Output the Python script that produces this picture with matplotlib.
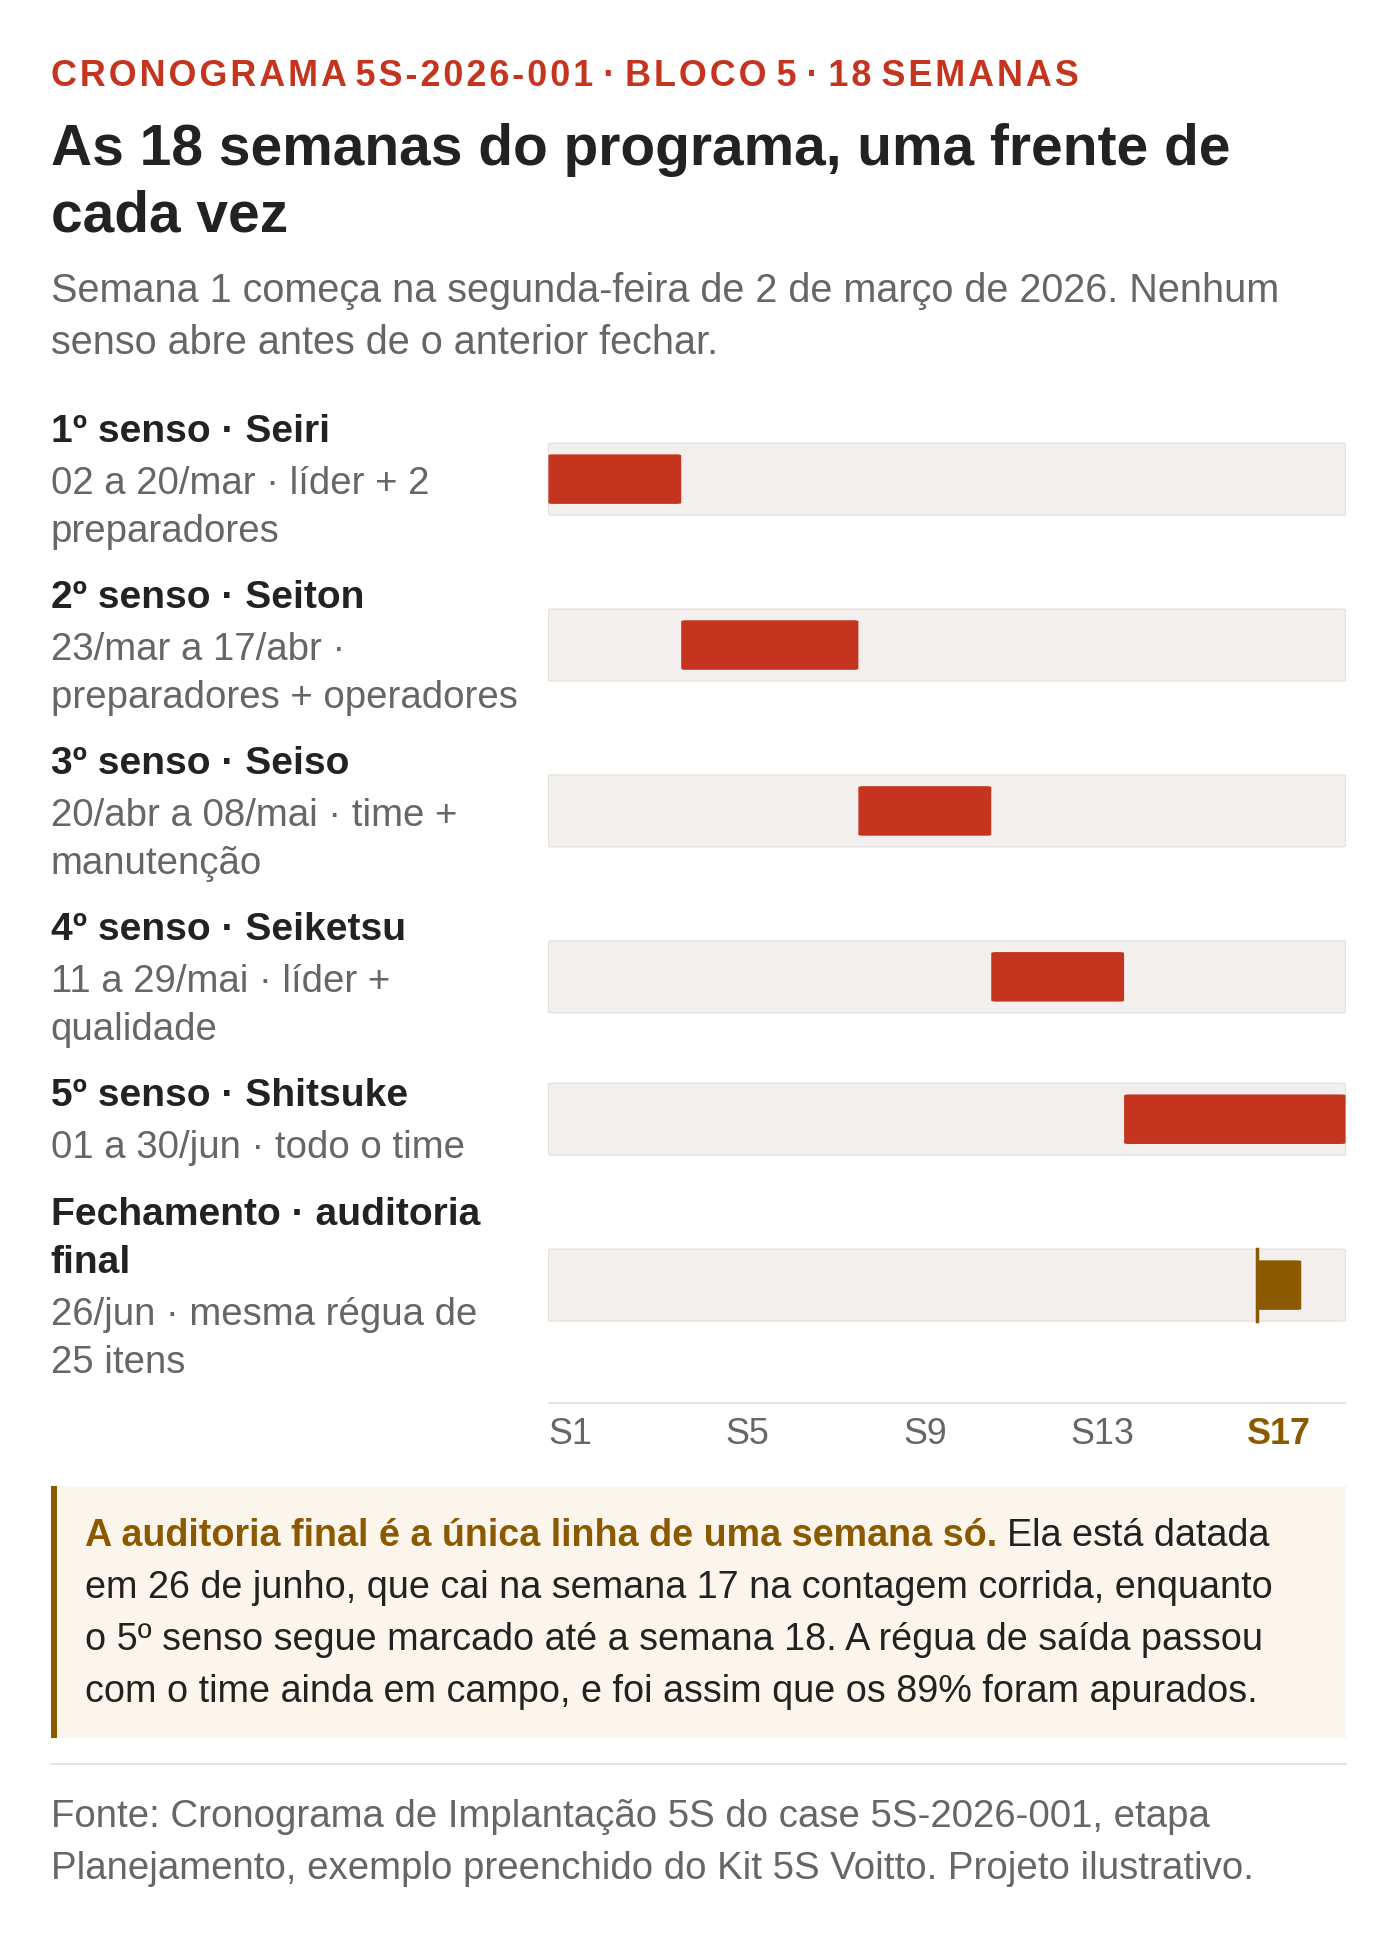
import matplotlib
matplotlib.use("Agg")
import matplotlib.pyplot as plt
from matplotlib.patches import FancyBboxPatch, Rectangle

plt.rcParams["font.family"] = ["Liberation Sans", "DejaVu Sans"]

# data
weeks_total = 18
names = ["1º senso · Seiri", "2º senso · Seiton", "3º senso · Seiso",
         "4º senso · Seiketsu", "5º senso · Shitsuke", "Fechamento · auditoria\nfinal"]
details = ["02 a 20/mar · líder + 2\npreparadores",
           "23/mar a 17/abr ·\npreparadores + operadores",
           "20/abr a 08/mai · time +\nmanutenção",
           "11 a 29/mai · líder +\nqualidade",
           "01 a 30/jun · todo o time",
           "26/jun · mesma régua de\n25 itens"]
start_week = [1, 4, 8, 11, 14, 17]
end_week = [3, 7, 10, 13, 18, 17]
tick_weeks = [1, 5, 9, 13, 17]
tick_labels = ["S1", "S5", "S9", "S13", "S17"]

RED = "#C4341F"
GOLD = "#8B5A00"
W, H = 1131, 1571
fig = plt.figure(figsize=(14, 19.45), dpi=100)
s = 1400 / W


def fx(x):
    return x / W


def fy(y):
    return 1 - y / H


def txt(x, y, t, size, **kw):
    return fig.text(fx(x), fy(y), t, fontsize=size * s * 0.72, va="center", **kw)


kicker = "CRONOGRAMA 5S-2026-001 · BLOCO 5 · 18 SEMANAS"
kicker = " ".join("\u200a".join(w) for w in kicker.split(" "))
txt(41, 62, kicker, 29, color=RED, fontweight="bold")
txt(41, 121, "As 18 semanas do programa, uma frente de", 46, color="#222", fontweight="bold")
txt(41, 175, "cada vez", 46, color="#222", fontweight="bold")
txt(41, 235, "Semana 1 começa na segunda-feira de 2 de março de 2026. Nenhum", 32, color="#666")
txt(41, 277, "senso abre antes de o anterior fechar.", 32, color="#666")

row_y = [387, 521, 655, 789, 904, 1038]
head_y = [349, 483, 617, 751, 885, 981]
for i in range(len(names)):
    hl = names[i].split("\n")
    for k, line in enumerate(hl):
        txt(41, head_y[i] + 39 * k, line, 31.5, color="#222", fontweight="bold")
    y0 = head_y[i] + 39 * len(hl) + 3
    for k, line in enumerate(details[i].split("\n")):
        txt(41, y0 + 39 * k, line, 31, color="#666")

# gantt axes
ax = fig.add_axes([fx(443), fy(1135), fx(1087) - fx(443), fy(330) - fy(1135)])
ax.set_xlim(0, weeks_total)
ax.set_ylim(1135, 330)
ax.axis("off")
track_h = 58
bar_h = 40
for i in range(len(names)):
    ax.add_patch(FancyBboxPatch((0, row_y[i] - track_h / 2), weeks_total, track_h,
                                boxstyle="round,pad=0,rounding_size=0.1", mutation_aspect=8,
                                fc="#F3EFEC", ec="#E6E1DC", lw=1))
    c = GOLD if i == len(names) - 1 else RED
    ax.add_patch(FancyBboxPatch((start_week[i] - 1, row_y[i] - bar_h / 2),
                                end_week[i] - start_week[i] + 1, bar_h,
                                boxstyle="round,pad=0,rounding_size=0.1", mutation_aspect=8,
                                fc=c, ec="none"))
    if i == len(names) - 1:
        ax.plot([start_week[i] - 1] * 2, [row_y[i] - 29, row_y[i] + 29], color=GOLD, lw=2.5)
ax.plot([0, weeks_total], [1133, 1133], color="#DDD", lw=1.2)
for w, lab in zip(tick_weeks, tick_labels):
    last = w == tick_weeks[-1]
    ax.text(w - 0.5, 1159, lab, ha="center", va="center", fontsize=29 * s * 0.72,
            color=GOLD if last else "#666", fontweight="bold" if last else "normal")

# callout
fig.patches.append(Rectangle((fx(41), fy(1404)), fx(1087) - fx(41), fy(1200) - fy(1404),
                             transform=fig.transFigure, fc="#FBF5EC", ec="none"))
fig.patches.append(Rectangle((fx(41), fy(1404)), fx(46) - fx(41), fy(1200) - fy(1404),
                             transform=fig.transFigure, fc=GOLD, ec="none"))
b = txt(69, 1241, "A auditoria final é a única linha de uma semana só.", 30.5, color=GOLD, fontweight="bold")
fig.canvas.draw()
bb = b.get_window_extent()
fig.text(bb.x1 / fig.bbox.width + 0.007, fy(1241), "Ela está datada", fontsize=30.5 * s * 0.72,
         va="center", color="#222")
lines = ["em 26 de junho, que cai na semana 17 na contagem corrida, enquanto",
         "o 5º senso segue marcado até a semana 18. A régua de saída passou",
         "com o time ainda em campo, e foi assim que os 89% foram apurados."]
for k, line in enumerate(lines):
    txt(69, 1283 + 42 * k, line, 30.5, color="#222")

fig.add_artist(plt.Line2D([fx(41), fx(1087)], [fy(1425), fy(1425)], color="#DDD", lw=1.2))
txt(41, 1468, "Fonte: Cronograma de Implantação 5S do case 5S-2026-001, etapa", 31, color="#666")
txt(41, 1510, "Planejamento, exemplo preenchido do Kit 5S Voitto. Projeto ilustrativo.", 31, color="#666")

fig.savefig("out.png", dpi=100, facecolor="white")
